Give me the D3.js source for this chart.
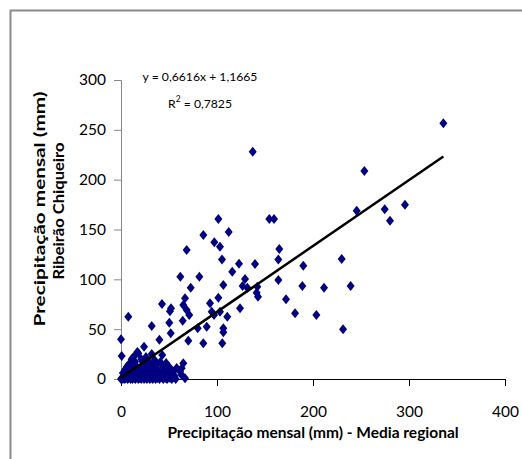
<!DOCTYPE html>
<html lang="pt">
<head>
<meta charset="utf-8">
<title>Precipitação mensal</title>
<script src="https://cdn.jsdelivr.net/npm/d3@7"></script>
<style>
  body { margin: 0; background: #fff; }
  text { font-family: Lato, "Open Sans", sans-serif; }
</style>
</head>
<body>
<script>
// precipitação mensal (mm): média regional (x) vs Ribeirão Chiqueiro (y)
var xRegional = [
  335.8, 137.2, 253.5, 154.5, 159.4, 245.5, 274.7, 295.8, 280.2, 164.9,
  163.9, 139.6, 189.9, 229.9, 163.9, 142.0, 141.3, 142.7, 188.9, 211.5,
  239.2, 171.9, 181.3, 203.5, 231.3, 101.4, 85.8, 112.2, 97.2, 103.1,
  68.4, 105.2, 122.9, 115.9, 61.8, 81.6, 72.6, 106.6, 129.2, 126.7,
  131.6, 42.7, 52.1, 66.7, 64.9, 68.4, 71.1, 101.4, 92.7, 124.0,
  94.5, 103.1, 96.9, 110.7, 50.3, 64.3, 89.3, 106.6, 79.9, 106.6,
  70.1, 85.7, 105.5, 64.9, 63.2, 7.6, 0.0, 0.7, 32.0, 51.8,
  40.0, 24.0, 18.0, 11.1, 14.6, 7.6, 22.6, 27.4, 33.9, 37.4,
  45.5, 40.3, 50.0, 66.7, 61.5, 63.2, 49.3, 52.8, 51.0,
  0, 1, 2, 3, 4, 5, 6, 7, 8, 9, 10, 11, 12, 13, 14, 15, 17, 18, 19, 21,
  22, 24, 25, 27, 28, 30, 31, 33, 34, 36, 38, 40, 42, 44, 46, 48, 51, 53, 55, 57,
  2, 4, 5, 6, 8, 9, 10, 12, 13, 15, 16, 17, 19, 20, 21, 23, 24, 26, 26, 28,
  29, 30, 31, 32, 34, 35, 36, 37, 39, 41, 42, 43, 44, 46, 47, 48, 54, 56, 58
];
var yChiqueiro = [
  256.5, 228.0, 208.6, 160.5, 160.5, 168.8, 170.2, 174.8, 158.8, 130.4,
  120.0, 115.3, 113.6, 120.4, 99.3, 92.6, 86.6, 82.5, 93.3, 91.6,
  93.3, 80.0, 65.9, 64.2, 49.9, 160.5, 144.4, 147.4, 137.1, 132.7,
  129.4, 120.0, 115.6, 107.6, 102.6, 102.6, 91.6, 94.3, 100.3, 93.3,
  91.6, 75.2, 70.9, 80.9, 74.2, 69.2, 64.2, 81.5, 75.9, 70.9,
  67.5, 67.5, 64.2, 62.5, 56.5, 58.5, 52.5, 50.8, 50.8, 46.8,
  38.4, 35.8, 35.8, 15.7, 10.7, 62.5, 39.8, 23.0, 53.2, 45.8,
  39.5, 32.4, 25.8, 19.7, 17.4, 14.0, 17.4, 13.0, 14.0, 10.7,
  9.0, 5.7, 12.4, 0.7, 7.4, 4.0, 9.0, 5.7, 68.0,
  0, 1, 0, 2, 0, 1, 3, 0, 1, 2, 0, 1, 0, 3, 1, 0, 2, 0, 1, 0,
  2, 0, 1, 0, 3, 0, 1, 0, 2, 0, 1, 0, 2, 0, 1, 0, 1, 0, 2, 0,
  6, 9, 4, 12, 7, 15, 5, 10, 22, 8, 13, 27, 6, 11, 20, 8, 14, 5, 22, 9,
  17, 4, 12, 25, 7, 19, 3, 14, 8, 17, 4, 24, 12, 6, 16, 3, 8, 3, 11
];
var xTicks = [0, 100, 200, 300, 400];
var yTicks = [0, 50, 100, 150, 200, 250, 300];
var slope = 0.6616, intercept = 1.1665;
var eqText = "y = 0,6616x + 1,1665";
var r2Text = "0,7825";
var xTitle = "Precipitação mensal (mm) - Media regional";
var yTitle1 = "Precipitação mensal (mm)";
var yTitle2 = "Ribeirão Chiqueiro";

var w = 522, h = 459;
var plotLeft = 121, plotRight = 505, plotTop = 80, plotBottom = 379;

var svg = d3.select("body").append("svg")
  .attr("width", w)
  .attr("height", h);

// moldura do gráfico
svg.append("rect")
  .attr("x", 10.5).attr("y", 10.5)
  .attr("width", 700).attr("height", 700)
  .attr("fill", "none")
  .attr("stroke", "#8a8a8a")
  .attr("stroke-width", 2);

var x = d3.scaleLinear().domain([0, 400]).range([plotLeft, plotRight]);
var y = d3.scaleLinear().domain([0, 300]).range([plotBottom, plotTop]);

var gy = svg.append("g")
  .attr("transform", "translate(" + plotLeft + ",0)")
  .call(d3.axisLeft(y).tickValues(yTicks).tickSize(7).tickPadding(8));
gy.select(".domain").attr("stroke", "#888");
gy.selectAll(".tick line").attr("stroke", "#888");
gy.selectAll("text").attr("font-size", 15.5).attr("fill", "#000");

var gx = svg.append("g")
  .attr("transform", "translate(0," + plotBottom + ")")
  .call(d3.axisBottom(x).tickValues(xTicks).tickSize(7).tickPadding(20));
gx.select(".domain").attr("stroke", "#000");
gx.selectAll(".tick line").attr("stroke", "#000");
gx.selectAll("text").attr("font-size", 15.5).attr("fill", "#000");

// pontos
var pts = d3.range(xRegional.length).map(function(i) {
  return {x: xRegional[i], y: yChiqueiro[i]};
});
svg.append("g").selectAll("path")
  .data(pts)
  .enter()
  .append("path")
  .attr("d", "M0,-5L4,0L0,5L-4,0Z")
  .attr("transform", function(d) { return "translate(" + x(d.x) + "," + y(d.y) + ")"; })
  .attr("fill", "#000080");

// linha de tendência
var xmax = d3.max(xRegional);
svg.append("line")
  .attr("x1", x(0)).attr("y1", y(intercept))
  .attr("x2", x(xmax)).attr("y2", y(slope * xmax + intercept))
  .attr("stroke", "#000")
  .attr("stroke-width", 2.5);

// equação
svg.append("text")
  .attr("x", 200).attr("y", 81)
  .attr("text-anchor", "middle")
  .attr("font-size", 12.2)
  .text(eqText);
var r2 = svg.append("text")
  .attr("x", 200).attr("y", 108)
  .attr("text-anchor", "middle")
  .attr("font-size", 12.2);
r2.append("tspan").text("R");
r2.append("tspan").attr("dy", -6).attr("font-size", 8.5).text("2");
r2.append("tspan").attr("dy", 6).text(" = " + r2Text);

// títulos
svg.append("text")
  .attr("x", (plotLeft + plotRight) / 2).attr("y", 438)
  .attr("text-anchor", "middle")
  .attr("font-size", 15.5)
  .attr("font-weight", "bold")
  .text(xTitle);

svg.append("text")
  .attr("transform", "translate(45,209) rotate(-90)")
  .attr("text-anchor", "middle")
  .attr("font-size", 16)
  .attr("font-weight", "bold")
  .attr("textLength", 235)
  .attr("lengthAdjust", "spacingAndGlyphs")
  .text(yTitle1);
svg.append("text")
  .attr("transform", "translate(64,211) rotate(-90)")
  .attr("text-anchor", "middle")
  .attr("font-size", 16)
  .attr("font-weight", "bold")
  .attr("textLength", 137)
  .attr("lengthAdjust", "spacingAndGlyphs")
  .text(yTitle2);
</script>
</body>
</html>
